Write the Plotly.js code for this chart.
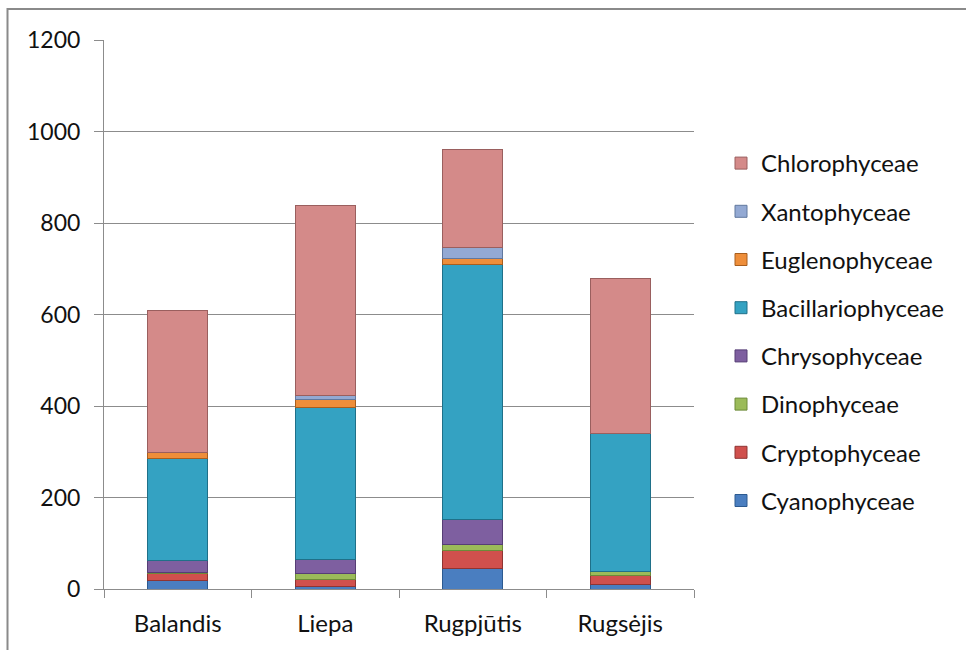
<!DOCTYPE html>
<html>
<head>
<meta charset="utf-8">
<script src="https://cdn.plot.ly/plotly-3.0.1.min.js"></script>
<style>
  html, body { margin: 0; padding: 0; background: #ffffff; }
  #chart { width: 966px; height: 650px; }
</style>
</head>
<body>
<div id="chart"></div>
<script>
// Months of sampling
const months = ['Balandis', 'Liepa', 'Rugpjūtis', 'Rugsėjis'];

// Phytoplankton class abundance per month (stacked bottom to top)
const cyanophyceae      = [18, 6, 45, 10];
const cryptophyceae     = [16, 14, 39, 20];
const dinophyceae       = [2, 13, 14, 8];
const chrysophyceae     = [26, 31, 53, 0];
const bacillariophyceae = [223, 333, 559, 301];
const euglenophyceae    = [13, 18, 13, 0];
const xantophyceae      = [0, 9, 24, 0];
const chlorophyceae     = [310, 415, 213, 339];

const seriesNames = ['Cyanophyceae', 'Cryptophyceae', 'Dinophyceae', 'Chrysophyceae',
                     'Bacillariophyceae', 'Euglenophyceae', 'Xantophyceae', 'Chlorophyceae'];
const seriesValues = [cyanophyceae, cryptophyceae, dinophyceae, chrysophyceae,
                      bacillariophyceae, euglenophyceae, xantophyceae, chlorophyceae];
const fillColors = ['#4a7ec0', '#d0504d', '#9bbb59', '#7e5fa0',
                    '#34a2c2', '#ee8e3a', '#93a9d3', '#d48a89'];
const edgeColors = ['#2c5a90', '#8f3432', '#6c8a38', '#563e75',
                    '#1f7089', '#a85e1e', '#61789e', '#9a5f5e'];

// Legend lists the top segment first
const traces = seriesNames.map((name, i) => ({
  type: 'bar',
  name: name,
  x: months,
  y: seriesValues[i],
  legendgroup: name,
  legendrank: seriesNames.length - i,
  marker: { color: fillColors[i], line: { color: edgeColors[i], width: 1 } },
  hoverinfo: 'name+y'
}));

// Plot area geometry in pixels, used for the outer frame lines
const W = 966, H = 650;
const mL = 104, mR = 272, mT = 40, mB = 61;
const pw = W - mL - mR, ph = H - mT - mB;
const px = v => (v - mL) / pw;
const py = v => (H - mB - v) / ph;

const frameColor = '#8a8a8a';
const textFont = 'Lato, "Open Sans", sans-serif';

const layout = {
  width: W,
  height: H,
  margin: { l: mL, r: mR, t: mT, b: mB, pad: 0 },
  paper_bgcolor: '#ffffff',
  plot_bgcolor: '#ffffff',
  barmode: 'stack',
  bargap: 0.595,
  font: { family: textFont, size: 24, color: '#111111' },
  showlegend: true,
  legend: {
    xref: 'container', yref: 'container',
    x: 721 / W, xanchor: 'left',
    y: 1 - 141 / H, yanchor: 'top',
    traceorder: 'grouped',
    tracegroupgap: 14,
    maxheight: 620,
    font: { family: textFont, size: 24, color: '#111111' },
    bgcolor: 'rgba(0,0,0,0)',
    itemclick: false
  },
  xaxis: {
    type: 'category',
    showgrid: false,
    showline: true,
    linecolor: '#8c8c8c',
    linewidth: 1,
    ticks: 'outside',
    tickson: 'boundaries',
    ticklen: 8,
    tickcolor: '#8c8c8c',
    ticklabelstandoff: 13,
    tickfont: { size: 24, color: '#111111' },
    zeroline: false
  },
  yaxis: {
    range: [0, 1200],
    dtick: 200,
    showgrid: true,
    gridcolor: '#8c8c8c',
    gridwidth: 1,
    showline: true,
    linecolor: '#8c8c8c',
    linewidth: 1,
    ticks: 'outside',
    ticklen: 9,
    tickcolor: '#8c8c8c',
    ticklabelstandoff: 9,
    tickfont: { size: 23, color: '#111111' },
    zeroline: false,
    fixedrange: true
  },
  shapes: [
    {
      type: 'path', xref: 'paper', yref: 'paper',
      path: `M ${px(7.5)} ${py(660)} L ${px(7.5)} ${py(9)} L ${px(980)} ${py(9)}`,
      line: { color: frameColor, width: 2 },
      layer: 'above'
    }
  ]
};

Plotly.newPlot('chart', traces, layout, { displayModeBar: false, staticPlot: true });
</script>
</body>
</html>
